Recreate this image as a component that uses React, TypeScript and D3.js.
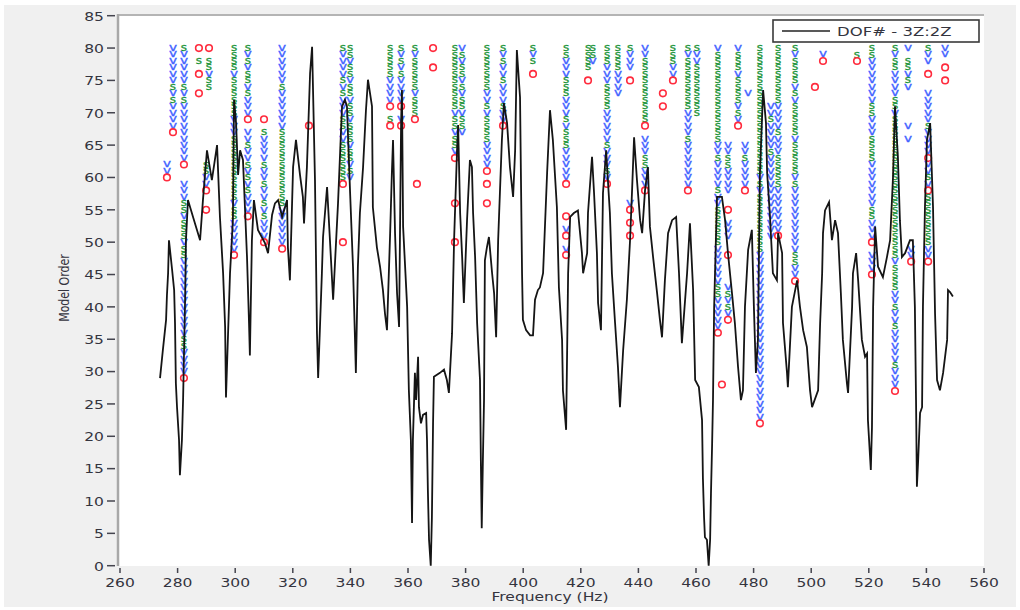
import React from "react";
import * as d3 from "d3";

const xTicks = [260, 280, 300, 320, 340, 360, 380, 400, 420, 440, 460, 480, 500, 520, 540, 560];
const yTicks = [0, 5, 10, 15, 20, 25, 30, 35, 40, 45, 50, 55, 60, 65, 70, 75, 80, 85];
const legendLabel = "DOF# - 3Z:2Z";
const xLabel = "Frequency (Hz)";
const yLabel = "Model Order";

const frfFreq = [273.9,274.9,276.0,276.3,276.7,277.0,278.1,278.8,279.1,279.4,279.8,280.5,280.8,281.5,281.9,282.6,282.9,283.6,285.7,287.8,288.8,290.2,291.9,293.7,294.7,295.8,296.5,296.8,298.2,299.2,299.6,300.3,301.0,301.7,302.7,304.1,304.8,305.1,305.8,306.5,307.9,310.3,311.4,312.8,313.8,314.9,316.3,318.0,318.3,319.0,320.1,321.1,322.5,323.5,323.9,324.9,326.0,326.7,327.7,328.4,328.8,330.1,330.5,331.9,332.9,334.0,335.7,337.1,338.1,338.8,339.9,340.9,341.6,341.9,342.6,343.3,344.4,345.4,346.1,347.5,347.8,349.2,350.3,351.3,352.0,352.7,353.8,354.4,354.8,355.5,356.2,356.9,357.6,357.9,358.3,359.7,360.3,361.0,361.4,361.7,362.4,362.8,363.5,363.8,364.5,365.2,366.3,366.6,366.9,367.3,367.9,368.3,368.7,369.0,371.1,372.5,373.5,374.2,375.3,376.0,377.0,377.4,378.1,378.8,379.4,380.5,381.5,382.2,382.6,383.3,384.0,385.0,385.3,385.6,386.0,386.4,386.7,387.4,388.1,389.2,389.9,390.6,391.3,392.6,393.3,394.4,395.4,396.5,397.2,397.8,398.9,399.6,399.9,401.0,402.4,403.4,404.1,405.1,405.8,406.9,408.3,409.3,410.3,411.7,412.4,413.5,413.8,414.9,415.6,416.3,417.6,419.0,420.4,420.8,422.2,422.5,423.9,424.6,425.6,426.0,427.0,427.7,428.8,429.4,430.1,430.8,431.9,432.9,433.6,434.7,436.0,437.1,437.8,438.5,439.5,440.6,441.3,442.3,443.3,444.0,445.1,446.5,447.5,448.2,449.2,450.3,451.7,453.1,454.1,455.1,456.9,457.9,459.0,459.7,461.0,462.1,462.4,462.8,463.1,463.8,464.4,464.9,465.2,465.6,465.9,466.3,467.3,469.0,470.1,471.1,472.5,473.5,474.6,475.6,476.3,477.0,478.1,479.4,480.1,480.8,481.5,482.2,483.3,484.3,484.7,485.7,486.7,488.1,488.5,489.9,490.2,491.6,491.9,493.3,495.1,496.1,497.2,498.5,499.6,500.3,502.4,503.1,503.8,504.1,504.8,506.2,507.2,508.3,509.3,510.3,511.0,512.4,512.8,514.2,514.5,515.6,516.3,517.6,518.7,519.4,519.7,520.7,521.1,521.5,522.2,523.2,524.9,526.3,527.4,528.4,529.1,530.1,530.8,531.5,532.6,534.3,535.3,536.0,536.4,536.7,537.1,537.8,538.5,538.8,539.5,540.2,541.3,542.3,543.0,543.7,544.7,545.8,547.2,547.5,548.2,549.2];

const frfValue = [29.0,33.4,38.0,41.8,45.2,50.3,45.7,42.6,37.5,28.2,24.5,19.4,14.0,19.4,25.6,41.1,50.3,56.5,53.4,50.3,56.5,64.2,59.6,65.0,53.9,45.2,36.9,26.0,45.2,53.4,72.0,68.4,60.4,64.2,62.7,47.7,37.5,32.5,50.3,56.5,51.9,49.9,48.3,54.2,56.0,56.5,53.9,56.5,49.2,44.1,61.6,65.8,60.4,57.0,52.9,61.6,76.1,80.2,59.6,35.9,29.0,45.2,50.8,58.5,50.3,41.1,56.0,71.0,72.0,71.0,57.6,46.2,34.9,29.8,46.2,54.5,61.6,70.4,75.1,71.0,55.4,49.2,46.2,42.6,39.0,36.4,51.4,60.7,65.8,51.4,42.1,36.9,68.4,73.5,52.4,40.0,27.1,19.4,6.6,19.4,29.8,25.6,32.3,24.5,22.0,23.3,23.6,19.4,11.7,4.0,0,7.5,22.0,29.2,29.8,30.3,28.7,26.7,35.9,50.3,63.8,68.1,54.5,47.7,40.6,53.4,62.7,61.6,54.5,47.7,37.5,28.7,16.3,5.8,16.3,25.6,47.2,49.2,50.8,45.2,42.1,35.3,50.3,65.8,71.5,68.4,61.6,57.0,64.2,79.7,72.4,45.2,38.0,36.4,35.6,35.6,41.1,42.6,43.0,45.2,60.7,70.4,65.8,55.4,43.0,34.9,27.1,21.0,45.2,53.9,54.5,54.9,48.3,45.2,48.3,54.5,63.2,57.6,48.3,40.6,36.4,57.6,64.2,59.6,54.5,45.2,37.5,30.7,24.5,33.3,41.1,50.3,58.0,66.2,59.6,53.4,51.4,58.0,61.6,52.4,47.7,42.1,37.9,35.3,44.1,51.4,53.4,53.9,45.2,34.4,45.2,52.9,42.6,28.7,27.6,22.5,13.5,7.5,4.4,4.0,0,4.0,11.2,18.9,25.6,40.0,57.0,57.0,53.4,48.3,42.1,37.5,30.7,25.6,27.1,40.0,48.8,51.9,40.0,29.8,34.9,60.7,73.5,68.4,60.7,53.9,45.2,44.1,51.4,48.3,37.5,29.8,27.6,40.0,44.1,40.0,36.4,33.8,27.1,24.5,27.1,37.5,45.2,51.4,54.9,56.2,50.3,53.4,51.4,42.1,34.9,28.2,26.7,40.0,45.2,48.3,44.1,34.9,32.3,32.8,22.5,14.8,21.4,40.0,52.4,46.2,44.6,47.7,50.3,60.0,71.0,63.2,53.4,47.7,48.3,50.3,50.3,40.0,25.6,12.2,15.9,23.6,24.5,40.0,55.4,65.8,68.4,55.4,39.0,28.7,27.1,29.8,34.9,42.6,42.3,41.6];

// Stabilization markers: one column per pole frequency, read from the top order downward.
// v = frequency stable, s = stable, o = new pole, . = nothing
const poleFreq = [276.3,278.4,282.2,287.4,290.9,289.9,299.6,304.4,310.0,316.3,325.6,337.4,339.9,353.8,357.6,362.4,363.1,368.7,376.3,378.75,387.4,393.0,403.4,414.9,422.5,424.2,429.1,432.9,437.1,442.3,448.5,452.0,457.2,460.3,467.6,469.0,471.1,474.6,478.1,477.0,482.2,486.0,488.5,494.4,501.3,504.1,515.9,521.1,529.1,533.6,534.7,540.6,546.5];
const poleTop = [62,80,80,80,80,62,80,80,69,80,68,80,80,80,80,80,59,80,80,80,80,80,80,80,80,80,80,80,80,80,73,80,80,80,80,28,65,80,73,65,80,71,80,80,74,79,79,80,80,80,49,80,80];
const poleCode = [
  "vvo",
  "vvvvvvsvsvvvvo",
  "svvvvvsvsvvvvvvvvvo..vvvssvsssvssvvvvvvvvvvvvssvvvvo",
  "o.s.o..o",
  "o.ssvss",
  "ssvvo..o",
  "ssssvssssssvvvssssssssssvssvvvvvo",
  "svsvssvsvvvo.vvsvvsvsvsvvvo",
  "o.svvvvsvvsvvsvsvvvo",
  "vvvvvvsvvvvvvssssssssssssvvvvvvo",
  "o",
  "svvvvsvsvvvssvvsssssso........o",
  "ssvssvssvssvsssvssvsv",
  "sssssvvvvo.so",
  "svsvsvvvvo.vo",
  "svsssssvssso",
  "o",
  "o..o",
  "ssssssssssvssvssvo......o.....o",
  "vsvssvsvssvssv",
  "sssssssvvsvssssvvvvo.o..o",
  "svsvvsvvvsvvo",
  "svs.o",
  "ssvvvsssvvvsvsssvvvvvo....o.vo.vo",
  "ssss.o",
  "ssv",
  "sssvvvssssvvvvvsvvvsvo",
  "ssssvvvv",
  "svvv.o..................vo.o.o",
  "vvssssssssssoavvvssvvvo".replace("a", "."),
  "o.o",
  "sssvvo",
  "svssssssssvvvvsvvvvvvvo",
  "svvssssssss",
  "vssssssssssssssvvsvvvvsvvssssssvvvvvvssvvvvvo",
  "o",
  "vvssvvvv..o.vvv..o....vsvsvo",
  "vsssvssssvsvo",
  "v",
  "vvsvvvvo",
  "ssssssssssssssssssssvsvsssssssssvvvvvvvvvvvvvvvvvvvvvvvvvvo",
  "vvsvvvvsvvvvvvvvvvvvv",
  "sssssssssvvvvsvvvsssssvvvvvvvo",
  "svssssvsvsssssvsssssvsvvvvvvvvvvssvvo",
  "o",
  "vo",
  "so",
  "ssvvvvvvvssvvvssssvvvvvvvssvvvo.vvvo",
  "svssvvvvssvssssssssssssssssssssssvssssvvsvvsvvvvvsvvvo",
  "v.ssvsv.....v.v",
  "vvo",
  "svv.o..vvvvvsvvvvovvsvossssssssvvo",
  "vv.o.o",
];

export default function App() {
  const W = 1020;
  const H = 610;
  const x = d3.scaleLinear().domain([260, 560]).range([120, 984]);
  const y = d3.scaleLinear().domain([0, 85]).range([565.7, 15.7]);
  const n = Math.min(frfFreq.length, frfValue.length);
  const pts: [number, number][] = d3.range(n).map((i) => [frfFreq[i], frfValue[i]] as [number, number]);
  const line = d3
    .line<[number, number]>()
    .x((d) => x(d[0]))
    .y((d) => y(d[1]));

  const markers: { f: number; order: number; c: string }[] = [];
  poleFreq.forEach((f, i) => {
    const code = poleCode[i] || "";
    for (let k = 0; k < code.length; k++) {
      const c = code[k];
      if (c === ".") continue;
      markers.push({ f, order: poleTop[i] - k, c });
    }
  });

  const font = "'DejaVu Sans', Verdana, sans-serif";
  const textColor = "#34343e";
  const sx = 1.35;

  return (
    <div style={{ position: "absolute", left: 0, top: 0 }}>
      <svg width={W} height={H} style={{ display: "block" }}>
        <rect x={0} y={0} width={W} height={H} fill="#ffffff" />
        <rect x={4} y={5} width={1012} height={602} fill="#f0f0f0" />
        <rect x={119} y={16} width={865} height={550} fill="#ffffff" />
        <line x1={118} x2={984} y1={15} y2={15} stroke="#b4b4b4" strokeWidth={2} />
        <line x1={118} x2={118} y1={14} y2={566} stroke="#a8a8a8" strokeWidth={2.5} />

        {yTicks.map((t) => (
          <g key={"y" + t}>
            <line x1={107} x2={115} y1={y(t)} y2={y(t)} stroke="#45454f" strokeWidth={1.5} />
            <text
              transform={`translate(104,${y(t) + 4.8}) scale(${sx},1)`}
              textAnchor="end"
              fontFamily={font}
              fontSize={11.5}
              fill={textColor}
            >
              {t}
            </text>
          </g>
        ))}
        {xTicks.map((t) => (
          <g key={"x" + t}>
            <line x1={x(t)} x2={x(t)} y1={568} y2={573} stroke="#45454f" strokeWidth={1.5} />
            <text
              transform={`translate(${x(t)},586.5) scale(${sx},1)`}
              textAnchor="middle"
              fontFamily={font}
              fontSize={11.5}
              fill={textColor}
            >
              {t}
            </text>
          </g>
        ))}
        <text
          transform={`translate(550,601) scale(${sx},1)`}
          textAnchor="middle"
          fontFamily={font}
          fontSize={11.5}
          fill={textColor}
        >
          {xLabel}
        </text>
        <text
          transform={`translate(69,288) rotate(-90) scale(1,${sx})`}
          textAnchor="middle"
          fontFamily={font}
          fontSize={11}
          fill={textColor}
        >
          {yLabel}
        </text>

        <g>
          {markers.map((m, i) => {
            const cx = x(m.f);
            const cy = y(m.order);
            if (m.c === "o") {
              return <circle key={i} cx={cx} cy={cy} r={3.3} fill="none" stroke="#ff2b3d" strokeWidth={1.6} />;
            }
            const isV = m.c === "v";
            const col = isV ? "#4262ff" : "#1c9438";
            return (
              <text
                key={i}
                transform={`translate(${cx},${cy + (isV ? 2.9 : 3.0)}) scale(${isV ? 1.3 : 1.2},1)`}
                textAnchor="middle"
                fontFamily={font}
                fontSize={isV ? 10.5 : 10}
                fill={col}
                stroke={col}
                strokeWidth={0.3}
              >
                {m.c}
              </text>
            );
          })}
        </g>

        <path d={line(pts) || ""} fill="none" stroke="#151515" strokeWidth={1.8} strokeLinejoin="miter" />

        <rect x={773} y={20} width={206} height={22} fill="#ffffff" stroke="#3a3a3a" strokeWidth={1.6} />
        <line x1={782} x2={830} y1={31} y2={31} stroke="#222" strokeWidth={1.4} />
        <text
          transform={`translate(837,36) scale(1.32,1)`}
          fontFamily={font}
          fontSize={12.5}
          fill={textColor}
        >
          {legendLabel}
        </text>
      </svg>
    </div>
  );
}
